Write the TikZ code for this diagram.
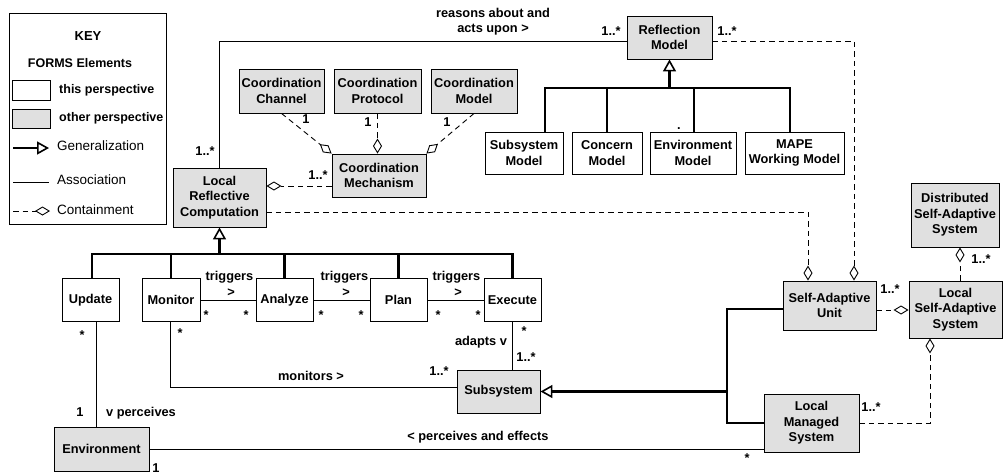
\documentclass[tikz,border=0pt]{standalone}
\usepackage{fontspec}
\setmainfont{Liberation Sans}
\usetikzlibrary{arrows.meta}
\definecolor{boxgray}{RGB}{224,224,224}
\begin{document}
\begin{tikzpicture}[x=1pt,y=-1pt,
  every node/.style={font=\fontsize{12.8}{15.5}\selectfont\bfseries},
  thisbox/.style={draw,line width=0.9pt,fill=white,align=center,inner sep=0pt},
  otherbox/.style={thisbox,fill=boxgray},
  lbl/.style={inner sep=0pt,text height=9pt,text depth=2.5pt},
  mult/.style={inner sep=0pt,anchor=base},
  keyhead/.style={lbl,font=\fontsize{12.5}{15}\selectfont\bfseries},
  keytxt/.style={lbl,anchor=west,font=\fontsize{13.5}{15}\selectfont},
  assoc/.style={line width=0.9pt},
  genl/.style={line width=2.4pt},
  gentip/.style={genl,-{Triangle[open,length=12pt,width=13pt,line width=1.6pt]}},
  contain/.style={line width=0.9pt,dash pattern=on 5.5pt off 4pt,-{Diamond[open,length=15pt,width=9pt]}}]
\useasboundingbox (0,0) rectangle (1003,475);

% ---------- KEY ----------
\node[thisbox,minimum width=157pt,minimum height=211pt] (key) at (87.5,118.5) {};
\node[keyhead,font=\fontsize{13}{15}\selectfont\bfseries] (keyt) at (88,37) {KEY};
\node[keyhead] (forms) at (80,64) {FORMS Elements};
\node[thisbox,minimum width=38pt,minimum height=20pt] (kthis) at (31,90) {};
\node[keyhead,anchor=west] (kthist) at (59,90) {this perspective};
\node[otherbox,minimum width=38pt,minimum height=19pt] (kother) at (31,118.5) {};
\node[keyhead,anchor=west] (kothert) at (59,118) {other perspective};
\coordinate (kg1) at (13,148); \coordinate (kg2) at (49,148);
\draw[gentip] (kg1) -- (kg2);
\node[keytxt] (kgt) at (57,147) {Generalization};
\coordinate (ka1) at (13,182); \coordinate (ka2) at (49,182);
\draw[assoc] (ka1) -- (ka2);
\node[keytxt] (kat) at (57,181) {Association};
\coordinate (kc1) at (13,211); \coordinate (kc2) at (50,211);
\draw[contain] (kc1) -- (kc2);
\node[keytxt] (kct) at (57,211) {Containment};

% ---------- classes ----------
\node[otherbox,minimum width=93pt,minimum height=59pt] (lrc) at (219.5,197.5) {Local\\Reflective\\Computation};
\node[otherbox,minimum width=85pt,minimum height=44pt] (cch) at (281.5,91) {Coordination\\Channel};
\node[otherbox,minimum width=87pt,minimum height=44pt] (cpr) at (377.5,91) {Coordination\\Protocol};
\node[otherbox,minimum width=86pt,minimum height=44pt] (cmo) at (474,91) {Coordination\\Model};
\node[otherbox,minimum width=94pt,minimum height=43pt] (cme) at (379,175.5) {Coordination\\Mechanism};
\node[otherbox,minimum width=85pt,minimum height=43pt] (rm) at (669.5,37.5) {Reflection\\Model};
\node[thisbox,minimum width=78pt,minimum height=42pt] (sm) at (524,153) {Subsystem\\Model};
\node[thisbox,minimum width=70pt,minimum height=42pt] (com) at (607,153) {Concern\\Model};
\node[thisbox,minimum width=86pt,minimum height=42pt] (em) at (693,153) {Environment\\Model};
\node[thisbox,minimum width=99pt,minimum height=42pt] (mwm) at (794.5,153) {MAPE\\Working Model};
\node[thisbox,minimum width=57pt,minimum height=43pt] (upd) at (90.5,300) {Update};
\node[thisbox,minimum width=58pt,minimum height=43pt] (mon) at (171,300) {Monitor};
\node[thisbox,minimum width=57pt,minimum height=43pt] (ana) at (284.5,300) {Analyze};
\node[thisbox,minimum width=57pt,minimum height=43pt] (pla) at (398.5,300) {Plan};
\node[thisbox,minimum width=57pt,minimum height=43pt] (exe) at (512.5,300) {Execute};
\node[otherbox,minimum width=95pt,minimum height=44pt] (env) at (101.5,449) {Environment};
\node[otherbox,minimum width=83pt,minimum height=43pt] (sub) at (498.5,391.5) {Subsystem};
\node[otherbox,minimum width=93pt,minimum height=49pt] (sau) at (829.5,305.5) {Self-Adaptive\\Unit};
\node[otherbox,minimum width=93pt,minimum height=57pt] (lsas) at (955.5,309.5) {Local\\Self-Adaptive\\System};
\node[otherbox,minimum width=88pt,minimum height=64pt] (dsas) at (955,215) {Distributed\\Self-Adaptive\\System};
\node[otherbox,minimum width=95pt,minimum height=58pt] (lms) at (811.5,423) {Local\\Managed\\System};

% ---------- connectors ----------
\draw[assoc] (lrc.north) |- ([yshift=-3.5pt]rm.west);
\draw[contain] ([yshift=-3.5pt]rm.east) -| ([xshift=24.5pt]sau.north);
\draw[contain] ([yshift=-14.5pt]lrc.east) -| ([xshift=-21.5pt]sau.north);
\draw[contain] ([yshift=-10.5pt]cme.west) -- ([yshift=-10.5pt]cme.west -| lrc.east);
\draw[contain] (cch.south) -- (cme.north west);
\draw[contain] (cpr.south) -- (cpr.south |- cme.north);
\draw[contain] (cmo.south) -- (cme.north east);

\coordinate (rmb) at (669.5,88);
\draw[genl] ([xshift=21pt]sm.north) |- (rmb) -| ([xshift=-4.5pt]mwm.north);
\draw[genl] (com.north) -- (com.north |- rmb);
\draw[genl] ([xshift=1pt]em.north) -- ([xshift=1pt]em.north |- rmb);
\draw[gentip] (rmb) -- (rm.south);

\coordinate (lb) at (219.5,254);
\draw[genl] ([xshift=1.5pt]upd.north) |- (lb) -| (exe.north);
\draw[genl] (mon.north) -- (mon.north |- lb);
\draw[genl] (ana.north) -- (ana.north |- lb);
\draw[genl] (pla.north) -- (pla.north |- lb);
\draw[gentip] (lb) -- (lrc.south);

\draw[assoc] (mon.east) -- (ana.west);
\draw[assoc] (ana.east) -- (pla.west);
\draw[assoc] (pla.east) -- (exe.west);
\draw[assoc] ([xshift=5.5pt]upd.south) -- ([xshift=5.5pt]upd.south |- env.north);
\draw[assoc] ([xshift=-1pt]mon.south) |- ([yshift=4.5pt]sub.west);
\draw[assoc] (exe.south) -- (exe.south |- sub.north);
\draw[assoc] (env.east) -- (env.east -| lms.west);

\coordinate (sb) at (727,391.5);
\draw[genl] ([yshift=-3.5pt]sau.west) -| (sb |- lms.west) -- (lms.west);
\draw[gentip] (sb) -- (sub.east);
\draw[contain] ([yshift=-4.5pt]sau.east) -- ([yshift=-4.5pt]sau.east -| lsas.west);
\draw[contain] ([xshift=4.5pt]lsas.north) -- ([xshift=4.5pt]lsas.north |- dsas.south);
\draw[contain] (lms.east) -| ([xshift=-25.5pt]lsas.south);

% ---------- labels ----------
\node[inner sep=0pt,align=center] (lreason) at (493,21.5) {reasons about and\\acts upon >};
\node[lbl] (m1) at (205,152) {1..*};
\node[lbl] (m2) at (611,32) {1..*};
\node[lbl] (m3) at (727,32) {1..*};
\node[lbl] (m4) at (306,120) {1};
\node[lbl] (m5) at (368,123) {1};
\node[lbl] (m6) at (447,123) {1};
\node[lbl] (m7) at (318,176) {1..*};
\node[mult] (dot) at (679,129) {.};
\node[lbl] (t1) at (229.5,277) {triggers};
\node[lbl] (t1a) at (231,293) {>};
\node[lbl] (t2) at (344.5,277) {triggers};
\node[lbl] (t2a) at (346,293) {>};
\node[lbl] (t3) at (456.5,277) {triggers};
\node[lbl] (t3a) at (458,293) {>};
\node[mult] (s1) at (206,319) {*};
\node[mult] (s2) at (246,319) {*};
\node[mult] (s3) at (321,319) {*};
\node[mult] (s4) at (361,319) {*};
\node[mult] (s5) at (438,319) {*};
\node[mult] (s6) at (478,319) {*};
\node[mult] (s7) at (82,339) {*};
\node[lbl] (m8) at (80,413) {1};
\node[lbl] (lperc) at (141,413) {v perceives};
\node[lbl] (m9) at (156,469) {1};
\node[mult] (s8) at (180,337) {*};
\node[lbl] (lmon) at (311,377) {monitors >};
\node[lbl] (m10) at (439,372) {1..*};
\node[mult] (s9) at (524,335) {*};
\node[lbl] (ladapt) at (481,342) {adapts v};
\node[lbl] (m11) at (526,358) {1..*};
\node[lbl] (lpe) at (478,437) {< perceives and effects};
\node[mult] (s10) at (747,462) {*};
\node[lbl] (m12) at (890,290) {1..*};
\node[lbl] (m13) at (981,260) {1..*};
\node[lbl] (m14) at (871,408) {1..*};
\end{tikzpicture}
\end{document}
